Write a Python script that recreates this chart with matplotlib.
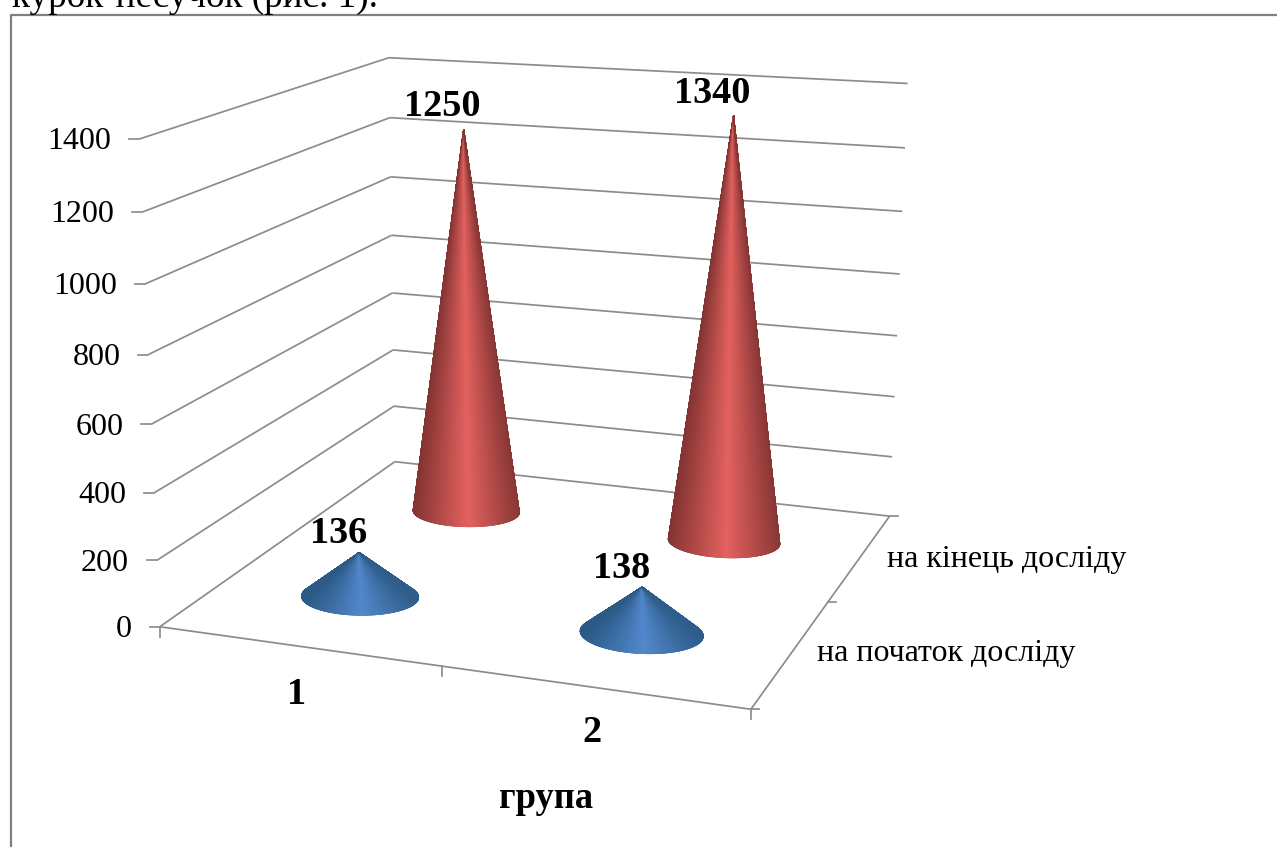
import numpy as np
import matplotlib
matplotlib.use("Agg")
import matplotlib.pyplot as plt
from matplotlib.collections import LineCollection
from matplotlib.colors import LinearSegmentedColormap

# data
grupy = ["1", "2"]
serii = ["на початок досліду", "на кінець досліду"]
pochatok = [136, 138]
kinec = [1250, 1340]
z_ticks = [0, 200, 400, 600, 800, 1000, 1200, 1400]
z_max = 1400

plt.rcParams["font.family"] = ["Liberation Serif", "DejaVu Serif"]

W, H = 1277, 847
fig = plt.figure(figsize=(W / 100, H / 100), dpi=100)
ax = fig.add_axes([0, 0, 1, 1])
ax.set_xlim(0, W)
ax.set_ylim(H, 0)
ax.axis("off")

# perspective of the 3D box: corners (x, y, z) in 0..1 -> picture position
kuty = [
    ((0, 0, 0), (160, 627)),
    ((1, 0, 0), (750, 710)),
    ((1, 1, 0), (890, 515)),
    ((0, 1, 0), (395, 462)),
    ((0, 0, 1), (140, 138)),
    ((0, 1, 1), (388, 58)),
    ((1, 1, 1), (908, 84)),
]
A = []
b = []
for (x, y, z), (px, py) in kuty:
    A.append([x, y, z, 1, 0, 0, 0, 0, -px * x, -px * y, -px * z])
    A.append([0, 0, 0, 0, x, y, z, 1, -py * x, -py * y, -py * z])
    b += [px, py]
P = np.linalg.lstsq(np.array(A, float), np.array(b, float), rcond=None)[0]
P = np.append(P, 1).reshape(3, 4)


def proj(x, y, z):
    x, y, z = np.broadcast_arrays(x, y, z)
    q = P @ np.vstack([x.ravel(), y.ravel(), z.ravel(), np.ones(x.size)])
    return q[0] / q[2], q[1] / q[2]


def liniya(p1, p2, col="#8c8c8c", lw=1.25):
    x, y = proj(*np.array([p1, p2]).T)
    ax.plot(x, y, color=col, lw=lw, solid_capstyle="butt", zorder=2)


# frame of the picture and the text above it
ax.plot([11, 11, W], [H, 15, 15], color="#808080", lw=1.6, zorder=1)
ax.text(12, 7, "курок-несучок (рис. 1).", fontsize=26.7, color="black",
        ha="left", va="baseline")

# walls and floor
for t in z_ticks:
    z = t / z_max
    liniya((0, 0, z), (0, 1, z))
    liniya((0, 1, z), (1, 1, z))
    x0, y0 = proj(0, 0, z)
    ax.plot([x0[0] - 10, x0[0]], [y0[0], y0[0]], color="#8c8c8c", lw=1.25)
    ax.text(x0[0] - 28, y0[0] + 3, str(t), fontsize=23, ha="right", va="center")
liniya((0, 0, 0), (1, 0, 0))
liniya((1, 0, 0), (1, 1, 0))

for u in [0, 0.5, 1]:
    x0, y0 = proj(u, 0, 0)
    ax.plot([x0[0], x0[0]], [y0[0], y0[0] + 10], color="#8c8c8c", lw=1.25)
for v in [0, 0.5, 1]:
    x0, y0 = proj(1, v, 0)
    ax.plot([x0[0], x0[0] + 8], [y0[0], y0[0]], color="#8c8c8c", lw=1.25)


def konus(u, v, value, svitly, temny):
    # only the visible front arc of the base, smooth shading from tip to base
    ru, rv = 0.101, 0.09
    a = np.linspace(0, 2 * np.pi, 721)[:-1]
    bx, by = proj(u + ru * np.cos(a), v + rv * np.sin(a), 0 * a)
    tx, ty = proj(u, v, value / z_max)
    kut = np.arctan2(bx - tx[0], by - ty[0])
    i1, i2 = np.argmin(kut), np.argmax(kut)
    idx = np.arange(len(a))
    # walk from left tangent point to right tangent point through the bottom
    ps = np.roll(idx, -i1)
    oblast = ps[: (i2 - i1) % len(a) + 1]
    if by[oblast].mean() < by.mean():
        ps = np.roll(idx, -i2)
        oblast = ps[: (i1 - i2) % len(a) + 1][::-1]
    fx, fy = bx[oblast], by[oblast]
    cx = (bx.min() + bx.max()) / 2
    rx = (bx.max() - bx.min()) / 2
    s = (fx - cx) / rx
    cmap = LinearSegmentedColormap.from_list("k", [temny, svitly, temny], N=256)
    if fx[0] > fx[-1]:
        fx, fy, s = fx[::-1], fy[::-1], s[::-1]
    X = np.vstack([np.full_like(fx, tx[0]), fx])
    Y = np.vstack([np.full_like(fy, ty[0]), fy])
    C = np.vstack([s, s])
    ax.pcolormesh(X, Y, C, shading="gouraud", cmap=cmap, vmin=-1.0, vmax=1.08,
                  zorder=3)
    # thin rim so the outline stays smooth
    segs = np.stack([np.c_[fx[:-1], fy[:-1]], np.c_[fx[1:], fy[1:]]], axis=1)
    ax.add_collection(LineCollection(segs, colors=cmap((s[:-1] + 1.0) / 2.08),
                                     linewidths=0.6, zorder=4))
    for kx, ky in [(fx[0], fy[0]), (fx[-1], fy[-1])]:
        ax.plot([tx[0], kx], [ty[0], ky], color=temny, lw=0.6, zorder=4)
    return tx[0], ty[0]


pozicii_u = [0.25, 0.75]
pozicii_v = [0.25, 0.75]
kolory = [("#5288cc", "#2c5a86"), ("#e4625f", "#843533")]
zsuv_y = [-19, -23]
for j, values in [(1, kinec), (0, pochatok)]:
    for i, val in enumerate(values):
        tx, ty = konus(pozicii_u[i], pozicii_v[j], val, *kolory[j])
        ax.text(tx - 21, ty + zsuv_y[j], str(val), fontsize=27.5, fontweight="bold",
                ha="center", va="center", zorder=5)

# category labels
for lab, (px, py) in zip(grupy, [(297, 694), (592, 733)]):
    ax.text(px, py, lab, fontsize=27.5, fontweight="bold", ha="center", va="center")
ax.text(546, 799, "група", fontsize=26.3, fontweight="bold", ha="center", va="center")
for lab, (px, py) in zip(serii, [(817, 654), (887, 559)]):
    ax.text(px, py, lab, fontsize=23, ha="left", va="center")

fig.savefig("out.png", dpi=100)
